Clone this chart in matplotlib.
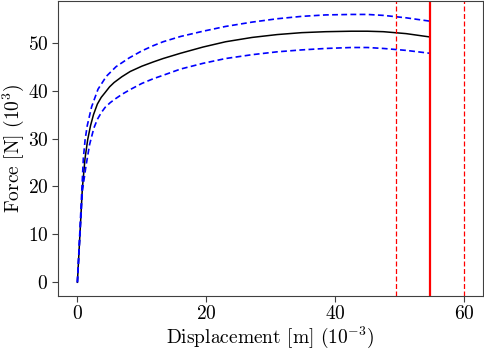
import matplotlib
matplotlib.use("Agg")
import matplotlib.pyplot as plt

plt.rcParams['font.family'] = 'serif'
plt.rcParams['font.serif'] = ['cmr10']
plt.rcParams['mathtext.fontset'] = 'cm'
plt.rcParams['axes.formatter.use_mathtext'] = True
plt.rcParams['axes.unicode_minus'] = False

# Mean curve
disp_mean = [0, 0.77, 1.18, 1.6, 2.04, 2.5, 3.1, 3.7, 4.3, 5.0, 5.7, 6.9, 8.2, 10.0, 11.8, 13.3, 16.0, 19.5, 23.0, 27.1, 31.0, 34.8, 38.5, 42.5, 45.0, 47.5, 51.0, 54.7]
force_mean = [0, 19.6, 25.8, 29.8, 32.7, 35.0, 37.2, 38.6, 39.6, 40.8, 41.7, 42.9, 44.0, 45.1, 46.0, 46.7, 47.8, 49.1, 50.2, 51.1, 51.7, 52.1, 52.3, 52.4, 52.4, 52.3, 51.9, 51.2]

# Upper bound
disp_up = [0, 0.77, 0.92, 1.2, 1.53, 2.2, 3.2, 4.5, 6.0, 8.0, 10.0, 11.8, 13.3, 16.0, 19.5, 23.0, 27.1, 31.0, 34.8, 38.5, 42.5, 45.0, 47.5, 51.0, 54.7]
force_up = [0, 21.5, 25.8, 29.8, 32.7, 36.6, 40.3, 43.0, 45.0, 46.8, 48.3, 49.4, 50.2, 51.3, 52.4, 53.4, 54.3, 55.0, 55.5, 55.8, 55.9, 55.9, 55.7, 55.2, 54.5]

# Lower bound
disp_lo = [0, 0.77, 1.3, 1.9, 2.56, 3.1, 3.7, 4.3, 5.1, 5.9, 7.0, 8.3, 10.0, 11.8, 13.3, 16.0, 19.5, 23.0, 27.1, 31.0, 34.8, 38.5, 42.5, 45.0, 47.5, 51.0, 54.7]
force_lo = [0, 19.0, 24.0, 28.8, 32.2, 34.0, 35.4, 36.5, 37.5, 38.3, 39.3, 40.3, 41.5, 42.5, 43.2, 44.5, 45.7, 46.7, 47.5, 48.1, 48.5, 48.8, 49.0, 49.0, 48.8, 48.4, 47.8]

# Vertical markers
v_mean = 54.7
v_bounds = [49.45, 59.95]

fig = plt.figure(figsize=(4.84, 3.52), dpi=100)
ax = fig.add_axes([0.12, 0.160, 0.878, 0.837])

ax.plot(disp_mean, force_mean, color='black', lw=1.1)
ax.plot(disp_up, force_up, color='blue', lw=1.2, ls='--', dashes=(3.5, 2))
ax.plot(disp_lo, force_lo, color='blue', lw=1.2, ls='--', dashes=(3.5, 2))
ax.axvline(v_mean, color='red', lw=1.6)
for v in v_bounds:
    ax.axvline(v, color='red', lw=0.9, ls='--', dashes=(4, 2))

ax.set_xticks([0, 20, 40, 60])
ax.set_yticks([0, 10, 20, 30, 40, 50])
ax.set_xlabel(r'Displacement [m] ($10^{-3}$)', fontsize=14, labelpad=1)
ax.set_ylabel(r'Force [N] ($10^3$)', fontsize=14, labelpad=1)
ax.tick_params(labelsize=14, color='0.25', length=4, pad=3)
for s in ax.spines.values():
    s.set_color('0.25')

fig.savefig('out.png', dpi=100)
